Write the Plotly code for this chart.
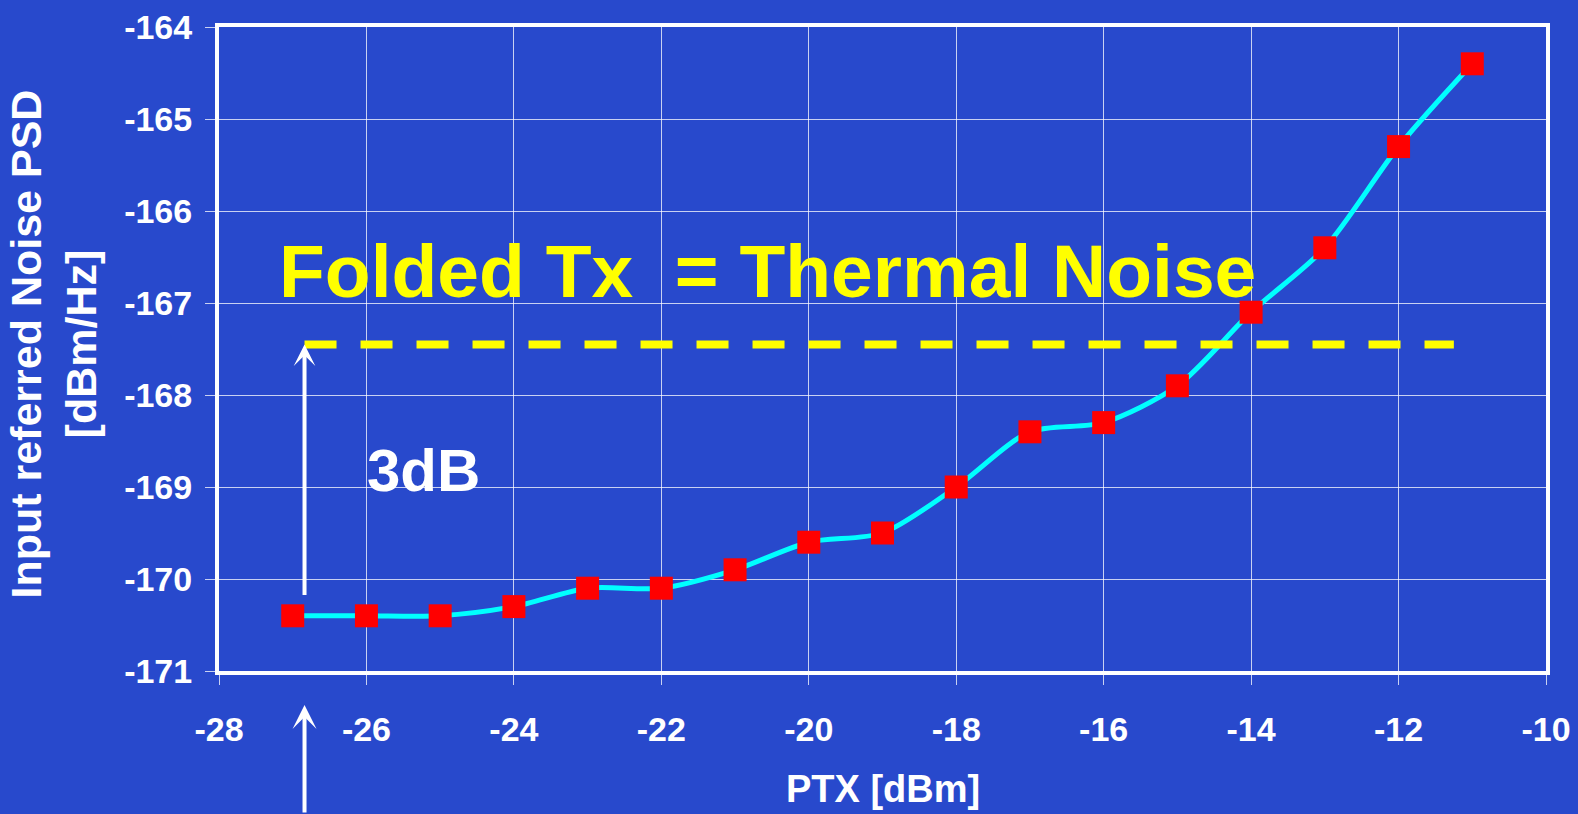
import plotly.graph_objects as go

# ---- data ----
ptx_dbm = [-27, -26, -25, -24, -23, -22, -21, -20, -19, -18, -17, -16, -15, -14, -13, -12, -11]
noise_psd = [-170.4, -170.4, -170.4, -170.3, -170.1, -170.1, -169.9, -169.6, -169.5,
             -169.0, -168.4, -168.3, -167.9, -167.1, -166.4, -165.3, -164.4]
x_ticks = [-28, -26, -24, -22, -20, -18, -16, -14, -12, -10]
y_ticks = [-171, -170, -169, -168, -167, -166, -165, -164]
thermal_level = -167.45          # folded Tx = thermal noise (floor + 3 dB)
dash_x_start = -26.84
dash_x_end = -11.25
arrow_tail_y = -170.19

BG = "#2849cc"
FONT = "Arial, Liberation Sans, sans-serif"

fig = go.Figure()
fig.add_trace(go.Scatter(
    x=ptx_dbm, y=noise_psd, mode="lines+markers",
    line=dict(color="#00ffff", width=5, shape="spline", smoothing=0.8),
    marker=dict(symbol="square", size=23, color="#ff0000"),
    showlegend=False, cliponaxis=False,
))

# dashed yellow reference line
fig.add_shape(type="line", xref="x", yref="y",
              x0=dash_x_start, x1=dash_x_end, y0=thermal_level, y1=thermal_level,
              line=dict(color="#ffff00", width=8, dash="32px,24px"))

# arrows
fig.add_annotation(x=dash_x_start, y=thermal_level, ax=dash_x_start, ay=arrow_tail_y,
                   xref="x", yref="y", axref="x", ayref="y", text="",
                   showarrow=True, arrowhead=3, arrowsize=0.9, arrowwidth=4, arrowcolor="white")
fig.add_annotation(x=dash_x_start, y=-0.0528, ax=0, ay=140,
                   xref="x", yref="paper", axref="pixel", ayref="pixel", text="",
                   showarrow=True, arrowhead=3, arrowsize=1.0, arrowwidth=4, arrowcolor="white")

fig.add_annotation(x=-20.56, y=-166.65, xref="x", yref="y", text="Folded Tx \u00a0= Thermal Noise",
                   showarrow=False, xanchor="center", yanchor="middle",
                   font=dict(family=FONT, size=75, color="#ffff00", weight="bold"))
fig.add_annotation(x=-25.23, y=-168.82, xref="x", yref="y", text="3dB",
                   showarrow=False, xanchor="center", yanchor="middle",
                   font=dict(family=FONT, size=60, color="white", weight="bold"))

# axis titles
fig.add_annotation(x=-0.1243, y=0.507, xref="paper", yref="paper",
                   text="Input referred Noise PSD<br>[dBm/Hz]", textangle=-90,
                   showarrow=False, xanchor="center", yanchor="middle",
                   font=dict(family=FONT, size=43, color="white", weight="bold"))
fig.add_annotation(x=0.5, y=-0.183, xref="paper", yref="paper",
                   text="PTX [dBm]", showarrow=False, xanchor="center", yanchor="middle",
                   font=dict(family=FONT, size=38, color="white", weight="bold"))

axis_common = dict(
    showgrid=True, gridcolor="rgba(255,255,255,0.75)", gridwidth=1,
    showline=True, linecolor="white", linewidth=4, mirror=True,
    ticks="outside", ticklen=10, tickcolor="rgba(255,255,255,0.75)", tickwidth=1,
    tickfont=dict(family=FONT, size=34, color="white", weight="bold"),
    zeroline=False, automargin=False,
)
fig.update_xaxes(range=[-28, -10], tickvals=x_ticks, ticktext=[str(v) for v in x_ticks],
                 ticklabelstandoff=15, **axis_common)
fig.update_yaxes(range=[-171, -164], tickvals=y_ticks, ticktext=[str(v) for v in y_ticks],
                 ticklabelstandoff=6, **axis_common)

fig.update_layout(
    width=1578, height=814,
    margin=dict(l=219, r=32, t=27, b=143, autoexpand=False),
    paper_bgcolor=BG, plot_bgcolor=BG,
    showlegend=False,
)

fig.write_html("out.html", config={"displayModeBar": False},
               post_script="document.body.style.margin='0';document.body.style.overflow='hidden';"
                           "document.body.style.background='" + BG + "';")
